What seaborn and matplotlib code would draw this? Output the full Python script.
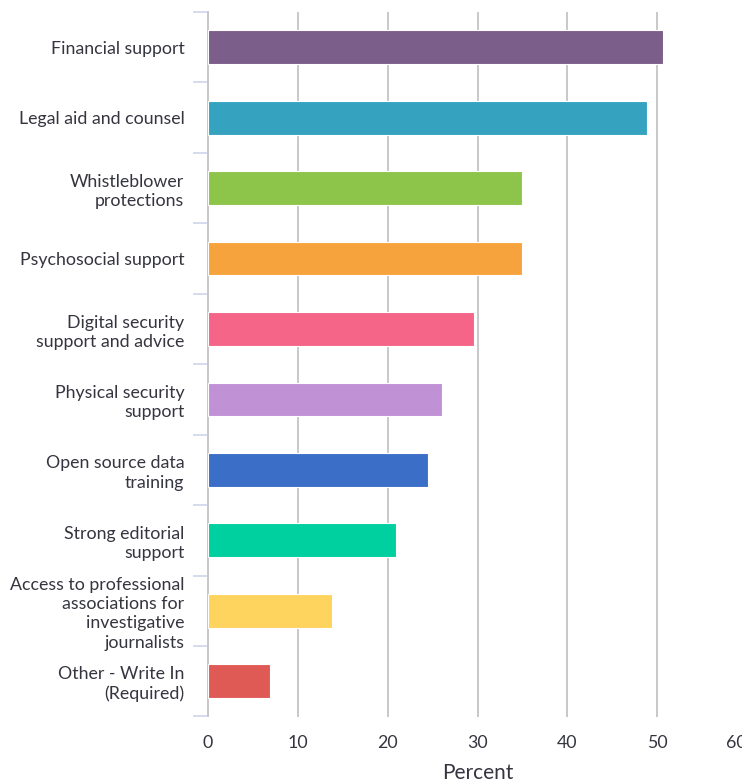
import matplotlib
matplotlib.use("Agg")
import seaborn as sns
import matplotlib.pyplot as plt
import pandas as pd
import numpy as np

# ------ data ------ #
categories = [
    "Financial support",
    "Legal aid and counsel",
    "Whistleblower\nprotections",
    "Psychosocial support",
    "Digital security\nsupport and advice",
    "Physical security\nsupport",
    "Open source data\ntraining",
    "Strong editorial\nsupport",
    "Access to professional\nassociations for\ninvestigative\njournalists",
    "Other - Write In\n(Required)",
]
percent = [50.7, 48.9, 35.0, 35.0, 29.6, 26.1, 24.5, 20.9, 13.8, 6.9]
bar_colors = [
    "#7b5e8a", "#35a3bf", "#8dc54b", "#f7a33d", "#f46587",
    "#c191d6", "#3b6fc7", "#00cfa0", "#fed35e", "#e05a55",
]
x_ticks = [0, 10, 20, 30, 40, 50, 60]

sns.set_style("white")
plt.rcParams['font.family'] = ['Lato', 'DejaVu Sans']

df = pd.DataFrame({"category": categories, "percent": percent})

fig = plt.figure(figsize=(7.42, 7.82), dpi=100, facecolor="w")
ax = fig.add_axes([208 / 742, 1 - 716.5 / 782, (747 - 208) / 742, (716.5 - 12) / 782])

sns.barplot(
    data=df, y="category", x="percent", hue="category",
    palette=bar_colors, saturation=1, legend=False, width=0.48, orient="h",
    edgecolor="white", linewidth=0.8, ax=ax, zorder=3,
)

text_color = "#353540"
fs = 12.8
ax.set_xlim(0, 60)
ax.set_xticks(x_ticks)
# the last label is pushed back inside the chart, like the original
ax.set_xticklabels([str(t) for t in x_ticks[:-1]] + [""], fontsize=fs, color=text_color)
ax.annotate(str(x_ticks[-1]), xy=(x_ticks[-1], 0), xycoords=("data", "axes fraction"),
            xytext=(-7.5, -13), textcoords="offset points",
            ha="center", va="top", fontsize=fs, color=text_color,
            annotation_clip=False)
ax.grid(axis="x", color="#c8c8c8", linewidth=1.4, zorder=0)
ax.grid(axis="y", visible=False)
ax.set_axisbelow(True)

ax.set_xlabel("Percent", fontsize=15, color=text_color, labelpad=9)
ax.set_ylabel("")

for lab in ax.get_yticklabels():
    lab.set_linespacing(1.24)
    lab.set_fontsize(fs)
    lab.set_color(text_color)

ax.tick_params(axis="y", which="major", left=False, length=0, pad=17)
ax.tick_params(axis="x", which="major", length=0, pad=13)
ax.set_yticks(np.arange(-0.5, len(categories), 1.0), minor=True)
ax.tick_params(axis="y", which="minor", left=True, length=10.5, width=1.2,
               color="#ccd6eb")

for side in ["top", "right", "bottom"]:
    ax.spines[side].set_visible(False)
ax.spines["left"].set_color("#c8c8c8")
ax.spines["left"].set_linewidth(1.4)

plt.savefig("out.png", dpi=100, facecolor="w")
